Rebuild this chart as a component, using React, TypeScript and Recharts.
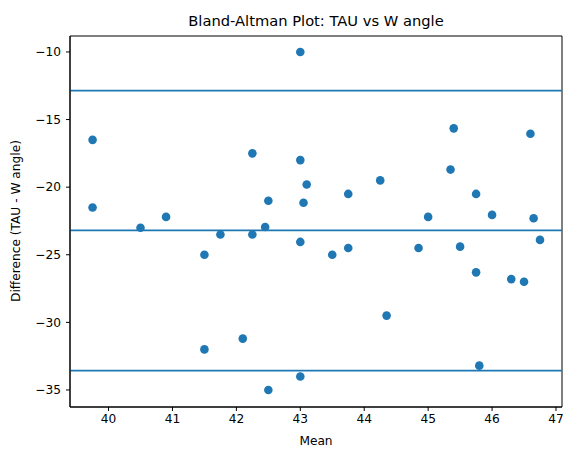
import React from "react";
import {
  ReferenceArea,
  ReferenceLine,
  Scatter,
  ScatterChart,
  XAxis,
  YAxis,
} from "recharts";

// mean of the two methods (x) and their difference (y)
const means = [
  43, 39.75, 42.25, 43, 43.1, 42.5, 43.05, 39.75, 40.9, 45.4, 46.6, 45.35, 44.25,
  43.75, 45.75, 45.0, 46.0, 46.65, 40.5, 42.45, 41.75, 42.25, 43, 41.5, 42.1, 41.5,
  43, 42.5, 46.75, 43.5, 43.75, 44.85, 45.5, 45.75, 46.3, 46.5, 44.35, 45.8,
];
const diffs = [
  -10, -16.5, -17.5, -18, -19.8, -21, -21.15, -21.5, -22.2, -15.65, -16.05, -18.7,
  -19.5, -20.5, -20.5, -22.2, -22.05, -22.3, -23, -22.95, -23.5, -23.5, -24.05, -25,
  -31.2, -32, -34, -35, -23.9, -25, -24.5, -24.5, -24.4, -26.3, -26.8, -27.0, -29.5,
  -33.2,
];

const meanDiff = -23.19;
const upperLimit = -12.86;
const lowerLimit = -33.57;

const xTicks = [40, 41, 42, 43, 44, 45, 46, 47];
const yTicks = [-35, -30, -25, -20, -15, -10];
const xDomain = [39.397, 47.094];
const yDomain = [-36.26, -8.82];

const points = means.map((m, i) => ({ x: m, y: diffs[i] }));

const blue = "#1f77b4";
const font = "'DejaVu Sans', sans-serif";
const fmt = (v: number) => String(v).replace("-", "\u2212");

const Dot = (props: any) => <circle cx={props.cx} cy={props.cy} r={4.3} fill={blue} />;

export default function App() {
  return (
    <div style={{ position: "absolute", left: 0, top: 0, width: 563, height: 450, fontFamily: font }}>
      <ScatterChart width={563} height={450} margin={{ top: 36, right: 1, bottom: 0, left: 0 }}>
        <XAxis
          type="number"
          dataKey="x"
          domain={xDomain}
          ticks={xTicks}
          allowDataOverflow
          height={43}
          tickSize={4}
          tickMargin={3}
          tick={{ fill: "#000", fontSize: 12.2, fontFamily: font }}
          stroke="#000"
          tickLine={{ stroke: "#000" }}
        />
        <YAxis
          type="number"
          dataKey="y"
          domain={yDomain}
          ticks={yTicks}
          allowDataOverflow
          width={70}
          tickSize={4}
          tickMargin={5}
          tickFormatter={fmt}
          tick={{ fill: "#000", fontSize: 12.2, fontFamily: font }}
          stroke="#000"
          tickLine={{ stroke: "#000" }}
        />
        <ReferenceLine y={upperLimit} stroke={blue} strokeWidth={1.8} />
        <ReferenceLine y={meanDiff} stroke={blue} strokeWidth={1.8} />
        <ReferenceLine y={lowerLimit} stroke={blue} strokeWidth={1.8} />
        <Scatter data={points} fill={blue} shape={Dot} isAnimationActive={false} />
        <ReferenceArea
          x1={xDomain[0]}
          x2={xDomain[1]}
          y1={yDomain[0]}
          y2={yDomain[1]}
          fill="none"
          stroke="#000"
          strokeWidth={1}
        />
      </ScatterChart>
      <div
        style={{
          position: "absolute",
          left: 316,
          top: 20,
          transform: "translate(-50%, -50%)",
          fontSize: 14.7,
          whiteSpace: "nowrap",
        }}
      >
        Bland-Altman Plot: TAU vs W angle
      </div>
      <div
        style={{
          position: "absolute",
          left: 316,
          top: 441,
          transform: "translate(-50%, -50%)",
          fontSize: 12.2,
          whiteSpace: "nowrap",
        }}
      >
        Mean
      </div>
      <div
        style={{
          position: "absolute",
          left: 16,
          top: 221,
          transform: "translate(-50%, -50%) rotate(-90deg)",
          fontSize: 12.2,
          whiteSpace: "nowrap",
        }}
      >
        Difference (TAU - W angle)
      </div>
    </div>
  );
}
